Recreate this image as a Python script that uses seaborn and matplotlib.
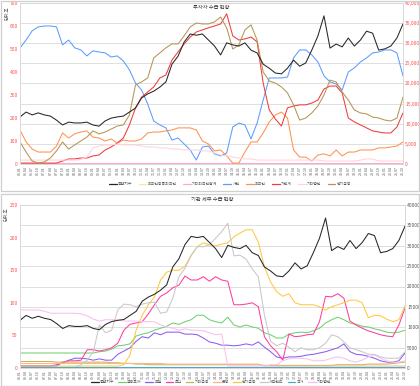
import matplotlib
matplotlib.use("Agg")
import matplotlib.pyplot as plt
import matplotlib.ticker as mticker
from matplotlib.patches import Rectangle
from matplotlib.lines import Line2D
import seaborn as sns
import pandas as pd

# ---------------- data ----------------
dates = ["06.01", "06.04", "06.07", "06.10", "07.01", "07.04", "07.07", "07.10",
         "08.01", "08.04", "08.07", "08.10", "09.01", "09.04", "09.07", "09.10",
         "10.01", "10.04", "10.07", "10.10", "11.01", "11.04", "11.07", "11.10",
         "12.01", "12.04", "12.07", "12.10", "13.01", "13.04", "13.07", "13.10",
         "14.01", "14.04", "14.07", "14.10", "15.01", "15.04", "15.07", "15.10",
         "16.01", "16.04", "16.07", "16.10", "17.01", "17.04", "17.07", "17.10",
         "18.01", "18.04", "18.07", "18.10", "19.01", "19.04", "19.07", "19.10",
         "20.01", "20.04", "20.07", "20.10", "21.01", "21.04", "21.07", "21.10"]

# composite index (right axis, both charts)
kospi = [11700, 12900, 12200, 12700, 12200, 11900, 10900, 9700, 10400, 10200,
         10200, 10400, 9700, 9400, 10700, 11400, 11700, 11900, 12900, 13900,
         16400, 17400, 18100, 19100, 20400, 24800, 26800, 30300, 32300, 32000,
         32300, 30800, 29300, 27100, 30100, 29600, 29300, 30100, 28300, 27600,
         24800, 23800, 22600, 22400, 23800, 25800, 24300, 25100, 28300, 31800,
         36800, 28800, 29800, 29100, 31300, 29300, 30800, 33000, 32500, 28300,
         28600, 29300, 31300, 34800]

# ---- top chart (left axis) ----
t_foreign_reg = [2, 2, 2, 2, 2, 2, 2, 2, 2, 2, 2, 2, 2, 2, 2, 2, 2, 2, 2, 2,
                 2, 2, 2, 2, 2, 2, 2, 2, 2, 2, 2, 2, 2, 2, 2, 2, 2, 2, 2, 2,
                 2, 2, 2, 2, 2, 2, 2, 2, 2, 2, 2, 2, 2, 2, 2, 2, 2, 2, 2, 2,
                 2, 2, 2, 2]
t_foreign_etc = [3, 3, 3, 3, 3, 3, 3, 3, 3, 3, 3, 3, 3, 3, 3, 3, 3, 3, 3, 3,
                 3, 3, 3, 3, 3, 3, 3, 3, 3, 3, 3, 3, 3, 3, 3, 3, 3, 3, 3, 3,
                 3, 3, 3, 3, 3, 3, 3, 3, 3, 3, 3, 3, 3, 3, 3, 3, 3, 3, 3, 3,
                 3, 3, 3, 3]
t_retail = [505, 539, 579, 596, 600, 600, 596, 518, 539, 505,
            496, 470, 492, 487, 483, 465, 470, 448, 409, 352,
            322, 261, 187, 170, 157, 104, 113, 87, 61, 17,
            74, 78, 44, 35, 48, 161, 178, 170, 109, 178,
            278, 374, 374, 374, 378, 461, 496, 496, 474, 444,
            383, 357, 348, 322, 400, 418, 444, 461, 483, 487,
            496, 496, 483, 383]
t_foreign = [148, 96, 65, 52, 52, 52, 78, 135, 113, 131,
             139, 144, 117, 113, 100, 109, 91, 104, 100, 100,
             109, 135, 139, 139, 144, 148, 157, 157, 157, 148,
             100, 87, 57, 61, 35, 4, 4, 52, 96, 96,
             135, 183, 213, 226, 200, 61, 30, 30, 13, 39,
             44, 35, 61, 35, 52, 52, 61, 61, 61, 70,
             70, 74, 78, 96]
t_inst = [4, 4, 4, 4, 4, 4, 4, 13, 22, 22,
          26, 26, 35, 39, 61, 74, 91, 113, 170, 244,
          291, 313, 335, 374, 387, 452, 487, 522, 552, 574,
          583, 592, 600, 609, 653, 557, 539, 544, 552, 531,
          352, 235, 196, 165, 244, 252, 257, 257, 265, 278,
          326, 339, 339, 309, 200, 183, 170, 157, 144, 139,
          135, 135, 161, 222]
t_corp = [17, 17, 17, 17, 17, 17, 17, 17, 17, 17,
          20, 30, 70, 78, 83, 83, 87, 83, 83, 83,
          78, 74, 74, 70, 70, 65, 65, 61, 61, 61,
          57, 57, 48, 39, 35, 30, 26, 22, 22, 17,
          17, 17, 17, 17, 17, 17, 17, 17, 17, 17,
          13, 13, 13, 13, 13, 13, 17, 22, 22, 13,
          13, 13, 13, 13]
t_pension = [96, 52, 13, 4, 9, 26, 57, 96, 65, 83,
             100, 117, 144, 131, 139, 152, 165, 170, 213, 344,
             357, 374, 461, 483, 505, 522, 522, 557, 596, 613,
             609, 609, 618, 639, 592, 500, 518, 583, 605, 539,
             400, 361, 352, 335, 309, 257, 191, 200, 222, 252,
             300, 365, 357, 313, 278, 235, 222, 218, 204, 200,
             191, 187, 200, 291]

# ---- bottom chart (left axis) ----
b_fininv = [23, 23, 23, 23, 23, 23, 23, 23, 23, 23,
            23, 23, 23, 25, 26, 29, 34, 35, 37, 49,
            52, 54, 58, 61, 64, 69, 67, 71, 74, 81,
            81, 74, 71, 69, 78, 66, 63, 66, 63, 61,
            54, 51, 46, 46, 52, 54, 55, 54, 57, 61,
            69, 74, 78, 74, 69, 67, 64, 63, 60, 58,
            55, 54, 55, 58]
b_insur = [3, 3, 3, 3, 3, 3, 5, 8, 12, 15,
           15, 14, 12, 14, 12, 12, 21, 26, 31, 41,
           48, 46, 54, 51, 55, 55, 55, 52, 52, 51,
           46, 40, 38, 35, 35, 34, 35, 37, 35, 40,
           32, 25, 17, 15, 17, 17, 18, 20, 21, 23,
           25, 28, 31, 37, 25, 21, 20, 18, 15, 11,
           9, 9, 11, 23]
b_trust = [3, 3, 3, 3, 3, 3, 3, 9, 11, 11,
           12, 28, 28, 26, 28, 31, 38, 58, 67, 69,
           71, 83, 97, 110, 115, 123, 127, 141, 135, 135,
           140, 133, 140, 135, 133, 97, 97, 98, 100, 94,
           48, 34, 25, 12, 52, 48, 49, 51, 52, 71,
           110, 109, 114, 107, 72, 66, 61, 57, 54, 51,
           49, 48, 66, 92]
b_otherfin = [10, 10, 10, 10, 10, 10, 9, 9, 9, 9,
              9, 9, 9, 9, 9, 8, 8, 7, 7, 6,
              6, 5, 5, 5, 5, 5, 5, 5, 5, 5,
              5, 5, 5, 5, 5, 5, 5, 5, 5, 5,
              4, 4, 4, 4, 4, 4, 4, 4, 4, 4,
              4, 4, 5, 5, 5, 5, 5, 6, 6, 6,
              6, 7, 8, 9]
b_bank = [7, 7, 7, 7, 7, 7, 7, 7, 7, 7,
          7, 7, 7, 7, 7, 7, 7, 7, 7, 7,
          7, 7, 7, 7, 6, 6, 6, 6, 6, 6,
          6, 6, 6, 6, 6, 6, 6, 6, 6, 6,
          3, 3, 3, 3, 3, 3, 3, 3, 3, 3,
          3, 3, 3, 3, 3, 3, 3, 3, 3, 3,
          3, 3, 3, 3]
b_pension = [3, 3, 3, 3, 3, 3, 3, 3, 3, 3,
             3, 3, 3, 3, 3, 3, 3, 5, 20, 58,
             81, 97, 109, 135, 147, 150, 150, 156, 173, 186,
             192, 189, 187, 190, 192, 201, 207, 212, 212, 193,
             155, 132, 117, 110, 114, 100, 97, 97, 97, 94,
             89, 94, 97, 100, 104, 104, 100, 77, 81, 80,
             75, 71, 74, 95]
b_private = [1, 1, 1, 1, 1, 1, 1, 1, 1, 1,
             5, 12, 25, 66, 54, 58, 89, 98, 97, 94,
             98, 100, 101, 84, 86, 107, 140, 153, 172, 186,
             186, 189, 199, 209, 222, 172, 173, 167, 152, 140,
             81, 41, 34, 38, 32, 25, 31, 28, 28, 31,
             38, 51, 48, 40, 31, 28, 25, 21, 21, 17,
             15, 15, 15, 25]
b_state = [1, 1, 1, 1, 1, 1, 1, 1, 1, 1, 1, 1, 1, 1, 1, 1, 1, 1, 1, 1,
           1, 1, 1, 1, 1, 1, 1, 1, 1, 1, 1, 1, 1, 1, 1, 1, 1, 1, 1, 1,
           1, 1, 1, 1, 1, 1, 1, 1, 1, 1, 1, 1, 1, 1, 1, 1, 1, 1, 1, 1,
           1, 1, 1, 1]
b_corp = [89, 89, 89, 89, 87, 84, 84, 84, 84, 84,
          83, 80, 75, 72, 74, 74, 74, 72, 72, 72,
          71, 71, 71, 66, 63, 61, 58, 60, 58, 58,
          57, 54, 51, 52, 3, 3, 3, 3, 3, 3,
          3, 5, 5, 11, 14, 15, 15, 14, 11, 11,
          12, 15, 17, 15, 11, 9, 12, 17, 20, 15,
          11, 9, 9, 11]

top_title = "투자자 수급 현황"
bot_title = "기관 세부 수급 현황"
unit_label = "단위:조"
index_name = "종합지수"

top_names = ["외국인등록외국인", "기타외국인합계", "개인", "외국인", "기관계", "기타법인", "연기금등"]
top_values = [t_foreign_reg, t_foreign_etc, t_retail, t_foreign, t_inst, t_corp, t_pension]
top_colors = ["#ffe699", "#ffa8cf", "#5c9cff", "#ff914d", "#ef3b3b", "#ffd3dc", "#b39652"]

bot_names = ["금융투자", "보험", "투신", "기타금융", "은행", "연기금등", "사모펀드", "국가", "기타법인"]
bot_values = [b_fininv, b_insur, b_trust, b_otherfin, b_bank, b_pension, b_private, b_state, b_corp]
bot_colors = ["#6fd06f", "#8c5cf2", "#ff3d9e", "#c4b45a", "#ffb48c", "#ffc83d", "#c8c8c8", "#4bacc6", "#f9bff0"]

# ---------------- drawing ----------------
sns.set_theme(style="white")
plt.rcParams['font.family'] = ['Noto Sans CJK KR', 'DejaVu Sans']

fig = plt.figure(figsize=(4.2, 3.86), dpi=100)
W, H = 420.0, 386.0

RED = "#ff4d4d"
GRAY = "#595959"
GRID = "#d9d9d9"
pos = list(range(len(dates)))


def fx(px):
    return px / W


def fy(py):
    return 1 - py / H


def make_chart(x0, x1, ytop, ybot, names, values, colors, lmax, lstep,
               rfmt, rcolor, title, title_inside, legend_y, legend_x, colsp):
    ax = fig.add_axes([fx(x0), fy(ybot), fx(x1) - fx(x0), fy(ytop) - fy(ybot)])
    rows = []
    for n, vals in zip(names, values):
        for p, v in zip(pos, vals):
            rows.append({"pos": p, "value": v, "series": n})
    df = pd.DataFrame(rows)
    sns.lineplot(data=df, x="pos", y="value", hue="series", hue_order=names,
                 palette=dict(zip(names, colors)), ax=ax, legend=False,
                 sort=False, estimator=None, linewidth=0.75)
    ax.set_xlim(0, len(dates) - 1)
    ax.set_ylim(0, lmax)
    ax.set_yticks(range(0, lmax + 1, lstep))
    ax.yaxis.set_minor_locator(mticker.MultipleLocator(lmax / 8))
    ax.grid(False)
    ax.grid(which="minor", axis="y", color=GRID, linewidth=0.6)
    ax.set_xticks(pos)
    ax.set_xticklabels(dates, rotation=90, fontsize=2.6, color=GRAY)
    ax.tick_params(axis="y", which="both", length=0, labelsize=3.6, labelcolor=RED, pad=1.5)
    ax.tick_params(axis="x", length=1.0, width=0.4, color=GRID, pad=0.8)
    ax.set_xlabel("")
    ax.set_ylabel("")
    for s in ax.spines.values():
        s.set_color(GRID)
        s.set_linewidth(0.6)

    ax2 = ax.twinx()
    kdf = pd.DataFrame({"pos": pos, "value": kospi})
    sns.lineplot(data=kdf, x="pos", y="value", ax=ax2, color="#262626",
                 linewidth=0.75, sort=False, estimator=None)
    ax2.set_ylim(0, 40000)
    ax2.set_yticks(range(0, 40001, 5000))
    ax2.yaxis.set_major_formatter(mticker.FuncFormatter(rfmt))
    ax2.tick_params(axis="y", length=0, labelsize=3.6, labelcolor=rcolor, pad=1.5)
    ax2.set_ylabel("")
    ax2.grid(False)
    for s in ax2.spines.values():
        s.set_color(GRID)
        s.set_linewidth(0.6)

    if title_inside:
        ax.text(0.5, 0.99, title, transform=ax.transAxes, ha="center", va="top",
                fontsize=3.8, color="#404040")
    else:
        fig.text(fx((x0 + x1) / 2), fy(ytop - 6), title, ha="center", va="center",
                 fontsize=3.8, color="#404040")

    handles = [Line2D([], [], color="#262626", lw=0.9)]
    labels = [index_name]
    for n, c in zip(names, colors):
        handles.append(Line2D([], [], color=c, lw=0.9))
        labels.append(n)
    fig.legend(handles, labels, loc="center", bbox_to_anchor=(fx(legend_x), fy(legend_y)),
               ncol=len(labels), fontsize=2.8, frameon=False, handlelength=2.0,
               handletextpad=0.3, columnspacing=colsp, labelcolor=GRAY,
               borderpad=0.1)
    return ax, ax2


make_chart(20, 403, 3, 164, top_names, top_values, top_colors, 700, 100,
           lambda v, p: f"{int(v):,}", RED, top_title, True, 184, 230, 1.6)
make_chart(20, 405, 205, 368, bot_names, bot_values, bot_colors, 250, 50,
           lambda v, p: f"{int(v)}", GRAY, bot_title, False, 382, 211, 1.0)

fig.text(fx(7), fy(6), unit_label, rotation=90, fontsize=3.2, va="top", ha="center", color=GRAY)
fig.text(fx(6), fy(207), unit_label, rotation=90, fontsize=3.2, va="top", ha="center", color=GRAY)

for (y0, y1) in [(0.5, 191), (194, 385.5)]:
    fig.add_artist(Rectangle((fx(0.5), fy(y1)), fx(419) - fx(0.5), fy(y0) - fy(y1),
                             transform=fig.transFigure, fill=False,
                             edgecolor="#cfcfcf", linewidth=0.9))

fig.savefig("out.png", dpi=100)
